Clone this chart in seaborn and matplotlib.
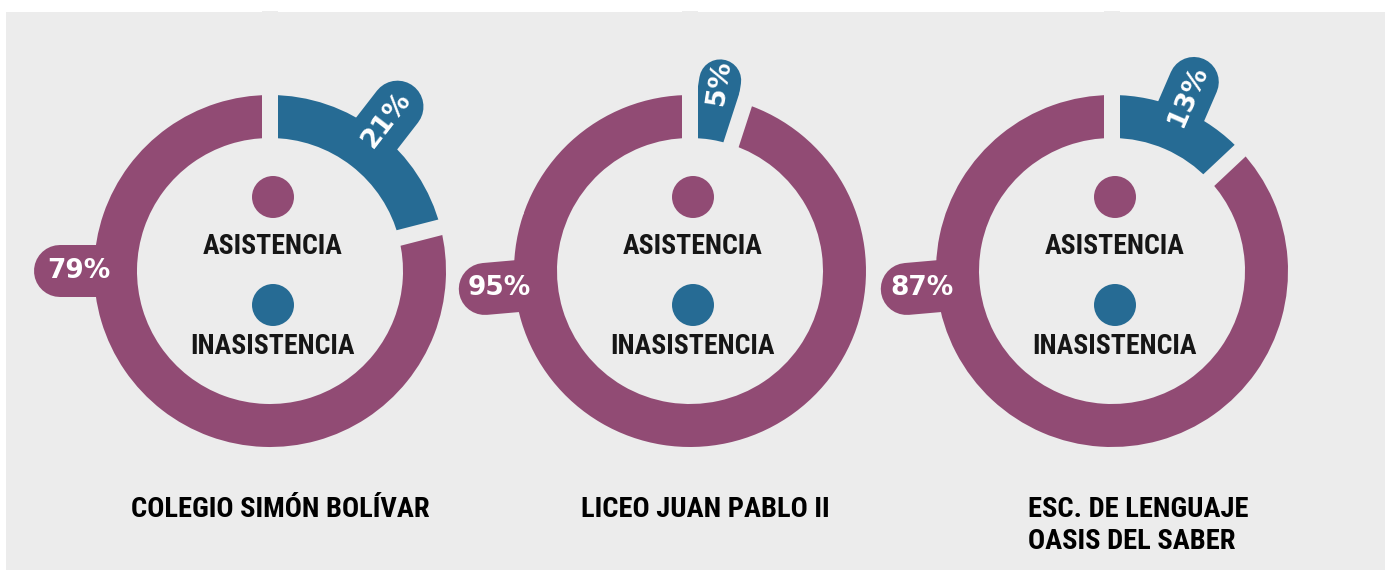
import numpy as np
import pandas as pd
import matplotlib
matplotlib.use("Agg")
import matplotlib.pyplot as plt
import seaborn as sns
from matplotlib.patches import Rectangle

# data
schools = ["COLEGIO SIMÓN BOLÍVAR", "LICEO JUAN PABLO II", "ESC. DE LENGUAJE\nOASIS DEL SABER"]
asistencia = [79, 95, 87]
inasistencia = [21, 5, 13]
legend_labels = ["ASISTENCIA", "INASISTENCIA"]

PURPLE = "#914B74"
BLUE = "#266B94"
BG = "#ECECEC"
INK = "#161616"

sns.set_theme(style="white")
palette = sns.color_palette([PURPLE, BLUE])
NARROW = dict(family=["Roboto Condensed", "Noto Sans", "DejaVu Sans"], fontstretch="condensed",
              fontweight="black")
PCT_FONT = dict(family=["DejaVu Sans"], fontweight="bold")

W, H = 1385, 570
fig = plt.figure(figsize=(W / 100, H / 100), dpi=100)
fig.patch.set_facecolor("white")
ax = fig.add_axes([0, 0, 1, 1])
ax.set_facecolor("none")
ax.add_patch(Rectangle((6, 0), W - 6, H - 12, facecolor=BG, edgecolor="none", zorder=0))

# layout (pixels, y from top)
cxs = [270, 690, 1112]
cy_px = 271
R_OUT, RING = 176, 43
TAG_R0, TAG_TXT = 165, 191
blue_tip = [234, 214, 231]
blue_w = [52, 42, 50]
purple_tip = [236, 232, 232]
purple_tag_ang = [180, 185, 185]
title_x = [280, 705, 1028]
title_ha = ["center", "center", "left"]
px2pt = 72 / 100


def Y(py):
    return H - py


for i, school in enumerate(schools):
    cx, cy = cxs[i], Y(cy_px)
    vals = [inasistencia[i], asistencia[i]]
    wedges, _ = ax.pie(vals, colors=[palette[1], palette[0]], startangle=90, counterclock=False,
                       radius=R_OUT, center=(cx, cy), frame=True,
                       wedgeprops=dict(width=RING, linewidth=0))
    for w in wedges:
        w.set_zorder(2)

    # label tags
    blue_ang = 90 - 360 * inasistencia[i] / 100 / 2
    tags = [(blue_ang, palette[1], f"{inasistencia[i]}%", blue_ang, blue_tip[i], blue_w[i]),
            (purple_tag_ang[i], palette[0], f"{asistencia[i]}%", 0, purple_tip[i], 52)]
    for ang, col, txt, rot, tip, tw in tags:
        a = np.deg2rad(ang)
        r1 = tip - tw / 2
        ax.plot([cx + TAG_R0 * np.cos(a), cx + r1 * np.cos(a)],
                [cy + TAG_R0 * np.sin(a), cy + r1 * np.sin(a)],
                color=col, lw=tw * px2pt, solid_capstyle="round", zorder=1)
        ax.text(cx + TAG_TXT * np.cos(a), cy + TAG_TXT * np.sin(a), txt,
                rotation=rot, rotation_mode="anchor", ha="center", va="center",
                color="white", fontsize=19, zorder=5, **PCT_FONT)

    # gaps between slices
    for ang in [90, 90 - 360 * inasistencia[i] / 100]:
        a = np.deg2rad(ang)
        ax.plot([cx + 110 * np.cos(a), cx + 260 * np.cos(a)],
                [cy + 110 * np.sin(a), cy + 260 * np.sin(a)],
                color=BG, lw=16 * px2pt, solid_capstyle="butt", zorder=3)

    # inner legend
    lx = cx + 3
    dots = pd.DataFrame({"x": [lx, lx], "y": [Y(197), Y(305)], "k": legend_labels})
    sns.scatterplot(data=dots, x="x", y="y", hue="k", palette=[palette[0], palette[1]],
                    s=(42 * px2pt) ** 2, linewidth=0, legend=False, ax=ax, zorder=4)
    ax.text(lx, Y(246), legend_labels[0], ha="center", va="center", fontsize=20,
            color=INK, zorder=5, **NARROW)
    ax.text(lx, Y(347), legend_labels[1], ha="center", va="center", fontsize=20,
            color=INK, zorder=5, **NARROW)

    # school name
    ax.text(title_x[i], Y(496), school, ha=title_ha[i], va="top", fontsize=20.5,
            color="black", linespacing=1.22, zorder=5, **NARROW)

ax.set_xlim(0, W)
ax.set_ylim(0, H)
ax.set_aspect("auto")
ax.set_xlabel("")
ax.set_ylabel("")
ax.axis("off")

fig.savefig("out.png", dpi=100, facecolor=fig.get_facecolor())
